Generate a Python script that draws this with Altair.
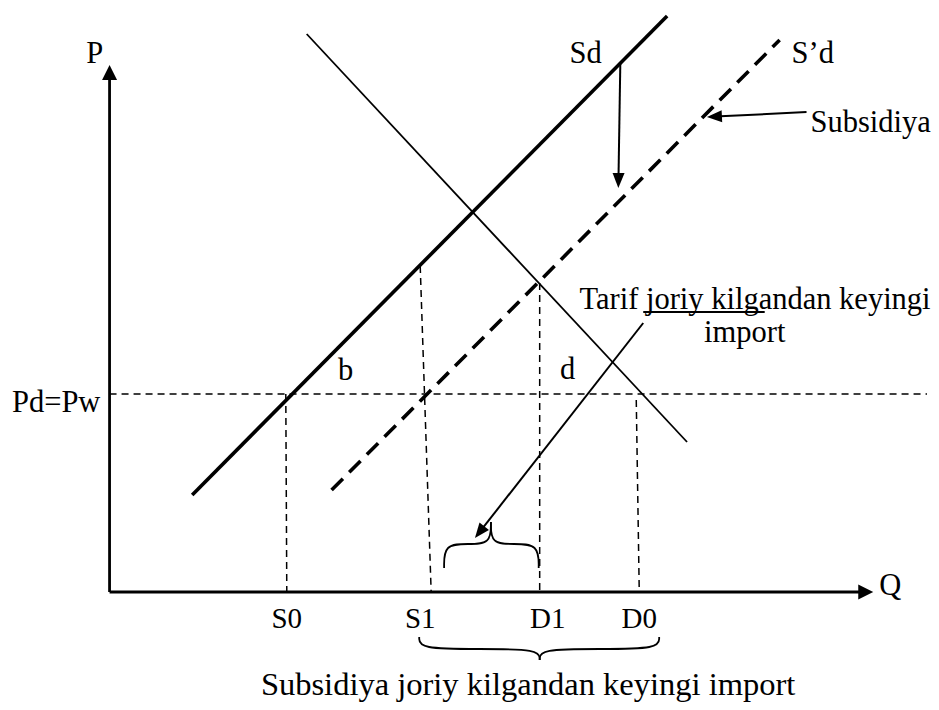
import math
import altair as alt
import pandas as pd

# ---------------- data (chart units: Q to the right, P upward) ----------------
SD_Q = [8.3, 56.0]          # domestic supply Sd
SD_P = [9.7, 57.6]
SPD_Q = [22.3, 67.3]        # supply after subsidy S'd
SPD_P = [10.2, 55.2]
D_Q = [19.8, 58.0]          # demand
D_P = [55.8, 15.0]
PW_LEVEL = 19.8             # Pd = Pw
PW_Q = [0.0, 82.1]

PROJ_LABELS = ["S0", "S1", "D1", "D0"]
PROJ_Q_TOP = [17.7, 31.2, 43.2, 52.9]
PROJ_P_TOP = [19.8, 32.6, 30.9, 19.2]
PROJ_Q_BOT = [17.8, 32.3, 43.2, 53.2]
PROJ_LABEL_Q = [17.8, 31.2, 44.0, 53.2]
PROJ_LABEL_P = -3.6

AXIS_Q_END = 76.7
AXIS_P_END = 52.7

ARROW_FROM_Q = [51.3, 70.0, 53.6]
ARROW_FROM_P = [53.0, 48.0, 26.9]
ARROW_TO_Q = [51.1, 60.0, 36.7]
ARROW_TO_P = [40.4, 47.5, 5.4]

UNDERLINE_Q = [53.6, 65.8]
UNDERLINE_P = 28.0

SMALL_BRACE_Q = [[33.6, 33.6, 36.0, 38.3, 38.3], [38.3, 38.3, 40.6, 43.1, 43.1]]
SMALL_BRACE_P = [[2.4, 4.8, 4.8, 4.8, 7.0], [7.0, 4.8, 4.8, 4.8, 2.4]]
BIG_BRACE_Q = [[31.1, 31.1, 37.1, 43.2, 43.2], [43.2, 43.2, 49.2, 55.2, 55.2]]
BIG_BRACE_P = [[-4.5, -5.7, -5.7, -5.7, -6.8], [-6.8, -5.7, -5.7, -5.7, -4.5]]

LABELS = ["P", "Q", "Pd=Pw", "b", "d", "Sd", "S\u2019d", "Subsidiya",
          "Tarif joriy kilgandan keyingi", "import"]
LABEL_Q = [-1.5, 77.3, -9.8, 23.7, 46.0, 46.2, 68.5, 70.4, 47.2, 63.8]
LABEL_P = [52.9, -0.3, 18.0, 21.2, 21.3, 52.9, 52.9, 46.0, 28.3, 25.0]
LABEL_ALIGN = ["center", "left", "left", "center", "center", "left", "left",
               "left", "left", "center"]

BOTTOM_TITLE = "Subsidiya joriy kilgandan keyingi import"
BOTTOM_Q = 15.2
BOTTOM_P = -10.3

# ---------------- helpers ----------------
FONT = "Liberation Serif"
xs = alt.Scale(domain=[-10.2, 82.1], nice=False, zero=False)
ys = alt.Scale(domain=[-11.0, 58.4], nice=False, zero=False)


def segs(pairs):
    rows = []
    for k, (qa, pa, qb, pb) in enumerate(pairs):
        rows.append({"seg": k, "i": 0, "q": qa, "p": pa})
        rows.append({"seg": k, "i": 1, "q": qb, "p": pb})
    return pd.DataFrame(rows)


def line_layer(df, **mark):
    return alt.Chart(df).mark_line(color="black", **mark).encode(
        x=alt.X("q:Q", scale=xs, axis=None),
        y=alt.Y("p:Q", scale=ys, axis=None),
        detail="seg:N",
        order="i:O",
    )


def head_rows(tips, froms, back):
    rows = []
    for (tq, tp), (fq, fp) in zip(tips, froms):
        dq, dp = tq - fq, tp - fp
        n = math.hypot(dq, dp)
        uq, up = dq / n, dp / n
        ang = math.degrees(math.atan2(dq, dp)) % 360
        rows.append({"q": tq - uq * back, "p": tp - up * back, "ang": ang})
    return pd.DataFrame(rows)


def head_layer(df, path, size):
    return alt.Chart(df).mark_point(shape=path, filled=True, color="black",
                                    opacity=1, size=size, strokeWidth=0).encode(
        x=alt.X("q:Q", scale=xs, axis=None),
        y=alt.Y("p:Q", scale=ys, axis=None),
        angle=alt.Angle("ang:Q", scale=None),
    )


# ---------------- layers ----------------
axes = line_layer(segs([(0, 0, AXIS_Q_END - 1.0, 0), (0, 0, 0, AXIS_P_END - 1.0)]),
                  strokeWidth=2.8)
sd = line_layer(segs([(SD_Q[0], SD_P[0], SD_Q[1], SD_P[1])]), strokeWidth=3.6)
spd = line_layer(segs([(SPD_Q[0], SPD_P[0], SPD_Q[1], SPD_P[1])]),
                 strokeWidth=3.6, strokeDash=[16, 9])
dem = line_layer(segs([(D_Q[0], D_P[0], D_Q[1], D_P[1])]), strokeWidth=1.8)
pw = line_layer(segs([(PW_Q[0], PW_LEVEL, PW_Q[1], PW_LEVEL)]),
                strokeWidth=1.5, strokeDash=[7, 5])
proj = line_layer(segs([(PROJ_Q_TOP[k], PROJ_P_TOP[k], PROJ_Q_BOT[k], 0)
                        for k in range(len(PROJ_LABELS))]),
                  strokeWidth=1.5, strokeDash=[7, 5])

shaft_pairs = []
for k in range(len(ARROW_FROM_Q)):
    dq = ARROW_TO_Q[k] - ARROW_FROM_Q[k]
    dp = ARROW_TO_P[k] - ARROW_FROM_P[k]
    n = math.hypot(dq, dp)
    shaft_pairs.append((ARROW_FROM_Q[k], ARROW_FROM_P[k],
                        ARROW_TO_Q[k] - dq / n * 0.8, ARROW_TO_P[k] - dp / n * 0.8))
shafts = line_layer(segs(shaft_pairs), strokeWidth=2)
underline = line_layer(segs([(UNDERLINE_Q[0], UNDERLINE_P, UNDERLINE_Q[1], UNDERLINE_P)]),
                       strokeWidth=1.8)

brace_rows = []
for name, QS, PS in (("s", SMALL_BRACE_Q, SMALL_BRACE_P), ("b", BIG_BRACE_Q, BIG_BRACE_P)):
    for h, (qq, pp) in enumerate(zip(QS, PS)):
        for i, (q, p) in enumerate(zip(qq, pp)):
            brace_rows.append({"seg": f"{name}{h}", "i": i, "q": q, "p": p})
braces = line_layer(pd.DataFrame(brace_rows), strokeWidth=1.8, interpolate="basis")

ARROW_PATH = "M0,-1L0.8,1L-0.8,1Z"
AXIS_PATH = "M0,-1L1,1L-1,1Z"
heads = head_layer(head_rows(list(zip(ARROW_TO_Q, ARROW_TO_P)),
                             list(zip(ARROW_FROM_Q, ARROW_FROM_P)), 0.75),
                   ARROW_PATH, 225)
axis_heads = head_layer(head_rows([(AXIS_Q_END, 0), (0, AXIS_P_END)],
                                  [(0, 0), (0, 0)], 0.75),
                        AXIS_PATH, 225)

text_layers = []
lab_df = pd.DataFrame({"t": LABELS, "q": LABEL_Q, "p": LABEL_P, "a": LABEL_ALIGN})
for al in ("left", "center"):
    text_layers.append(
        alt.Chart(lab_df[lab_df.a == al]).mark_text(
            align=al, baseline="alphabetic", font=FONT, fontSize=30.5, color="black"
        ).encode(x=alt.X("q:Q", scale=xs, axis=None),
                 y=alt.Y("p:Q", scale=ys, axis=None), text="t:N"))
proj_df = pd.DataFrame({"t": PROJ_LABELS, "q": PROJ_LABEL_Q,
                        "p": [PROJ_LABEL_P] * len(PROJ_LABELS)})
text_layers.append(
    alt.Chart(proj_df).mark_text(
        align="center", baseline="alphabetic", font=FONT, fontSize=29, color="black"
    ).encode(x=alt.X("q:Q", scale=xs, axis=None),
             y=alt.Y("p:Q", scale=ys, axis=None), text="t:N"))
bottom_df = pd.DataFrame({"t": [BOTTOM_TITLE], "q": [BOTTOM_Q], "p": [BOTTOM_P]})
text_layers.append(
    alt.Chart(bottom_df).mark_text(
        align="left", baseline="alphabetic", font=FONT, fontSize=32.5, color="black"
    ).encode(x=alt.X("q:Q", scale=xs, axis=None),
             y=alt.Y("p:Q", scale=ys, axis=None), text="t:N"))

chart = alt.layer(
    pw, proj, dem, sd, spd, axes, shafts, underline, braces, heads, axis_heads,
    *text_layers
).properties(
    width=923, height=694,
    autosize=alt.AutoSizeParams(type="fit", contains="padding"),
    padding=0, background="white",
).configure_view(stroke=None)

chart.save("out.html", embed_options={"renderer": "svg", "actions": False})
